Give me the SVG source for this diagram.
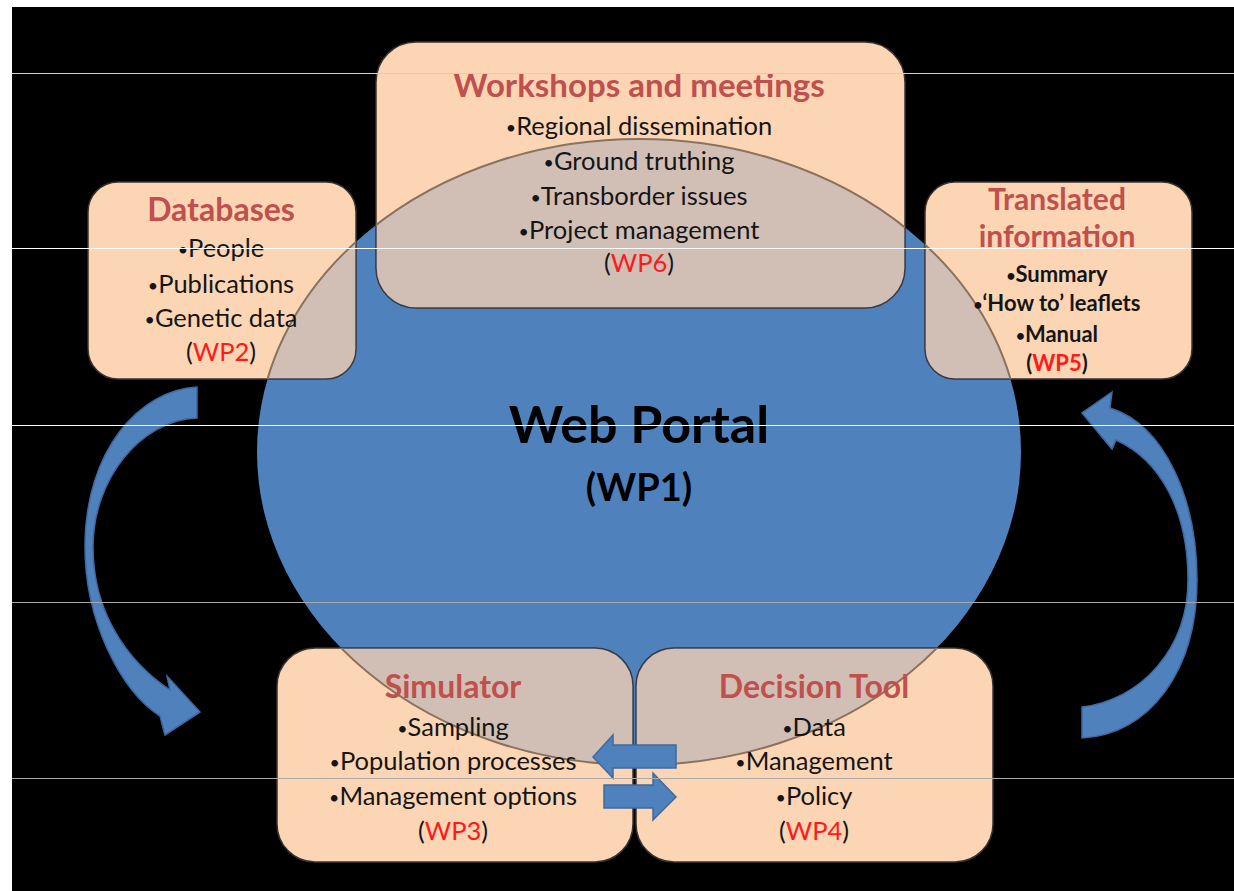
<svg xmlns="http://www.w3.org/2000/svg" width="1234" height="891" viewBox="0 0 1234 891">
<style>
.box{fill:#fcd5b5;stroke:#3b3330;stroke-width:1.5}
.t{font-family:Lato,"Open Sans",sans-serif;text-anchor:middle}
.title{font-weight:bold;fill:#c0504d}
.body{fill:#151515}
.wp{fill:#ff1a1a}
.b{font-size:70%;baseline-shift:8%}
.arr{fill:#4f81bd;stroke:#3e6aa0;stroke-width:1.5}
</style>
<defs>
<clipPath id="boxclip">
<rect x="376" y="42" width="529" height="266" rx="40"/>
<rect x="88" y="182" width="268" height="197" rx="30"/>
<rect x="925" y="182" width="267" height="197" rx="30"/>
<rect x="277" y="648" width="356" height="214" rx="38"/>
<rect x="636" y="648" width="357" height="214" rx="38"/>
</clipPath>
</defs>
<rect x="0" y="0" width="1234" height="891" fill="#ffffff"/>
<rect x="12" y="7" width="1222" height="884" fill="#000000"/>
<ellipse id="web-portal-shape" cx="639" cy="452" rx="382" ry="313" fill="#4f81bd"/>
<g id="workshops"><rect class="box" x="376" y="42" width="529" height="266" rx="40"/></g>
<g id="databases"><rect class="box" x="88" y="182" width="268" height="197" rx="30"/></g>
<g id="translated"><rect class="box" x="925" y="182" width="267" height="197" rx="30"/></g>
<g id="simulator"><rect class="box" x="277" y="648" width="356" height="214" rx="38"/></g>
<g id="decision"><rect class="box" x="636" y="648" width="357" height="214" rx="38"/></g>
<ellipse cx="639" cy="452" rx="382" ry="313" fill="#4f81bd" fill-opacity="0.25" stroke="#8a725f" stroke-width="2" clip-path="url(#boxclip)"/>
<g id="connectors">
<path class="arr" d="M197,387 C140,390 85,450 85,547 C85,620 120,690 160,716 L165,735 L200,712 L167,676 L170,690 C125,660 93,610 93,547 C93,480 140,420 197,418 Z"/>
<path class="arr" d="M1082,707 C1140,700 1188,650 1188,580 C1188,510 1160,460 1116,440 L1112,449 L1082,413 L1112,392 L1110,408 C1165,425 1197,500 1197,580 C1197,670 1150,735 1082,738 Z"/>
<path class="arr" d="M676,745 L613,745 L613,735 L593,757 L613,778 L613,768 L676,768 Z"/>
<path class="arr" d="M604,785 L653,785 L653,773 L676,797 L653,820 L653,808 L604,808 Z"/>
</g>
<g id="web-portal-text">
<text class="t" x="639" y="443" font-size="52" font-weight="bold" fill="#000">Web Portal</text>
<text class="t" x="639" y="501" font-size="38" font-weight="bold" fill="#000">(WP1)</text>
</g>
<g id="workshops-text">
<text class="t title" x="639" y="97" font-size="33">Workshops and meetings</text>
<text class="t body" x="639" y="135" font-size="25.5"><tspan class="b">•</tspan>Regional dissemination</text>
<text class="t body" x="639" y="170" font-size="25.5"><tspan class="b">•</tspan>Ground truthing</text>
<text class="t body" x="639" y="205" font-size="25.5"><tspan class="b">•</tspan>Transborder issues</text>
<text class="t body" x="639" y="239" font-size="25.5"><tspan class="b">•</tspan>Project management</text>
<text class="t body" x="639" y="272" font-size="25.5">(<tspan class="wp">WP6</tspan>)</text>
</g>
<g id="databases-text">
<text class="t title" x="221" y="221" font-size="32">Databases</text>
<text class="t body" x="221" y="257" font-size="25.5"><tspan class="b">•</tspan>People</text>
<text class="t body" x="221" y="293" font-size="25.5"><tspan class="b">•</tspan>Publications</text>
<text class="t body" x="221" y="327" font-size="25.5"><tspan class="b">•</tspan>Genetic data</text>
<text class="t body" x="221" y="361" font-size="25.5">(<tspan class="wp">WP2</tspan>)</text>
</g>
<g id="translated-text">
<text class="t title" x="1057" y="210" font-size="30">Translated</text>
<text class="t title" x="1057" y="247" font-size="30">information</text>
<text class="t body" x="1057" y="282" font-size="22" font-weight="bold"><tspan class="b">•</tspan>Summary</text>
<text class="t body" x="1057" y="311" font-size="22" font-weight="bold"><tspan class="b">•</tspan>‘How to’ leaflets</text>
<text class="t body" x="1057" y="342" font-size="22" font-weight="bold"><tspan class="b">•</tspan>Manual</text>
<text class="t body" x="1057" y="371" font-size="22" font-weight="bold">(<tspan class="wp">WP5</tspan>)</text>
</g>
<g id="simulator-text">
<text class="t title" x="453" y="698" font-size="32">Simulator</text>
<text class="t body" x="453" y="736" font-size="25.5"><tspan class="b">•</tspan>Sampling</text>
<text class="t body" x="453" y="770" font-size="25.5"><tspan class="b">•</tspan>Population processes</text>
<text class="t body" x="453" y="805" font-size="25.5"><tspan class="b">•</tspan>Management options</text>
<text class="t body" x="453" y="840" font-size="25.5">(<tspan class="wp">WP3</tspan>)</text>
</g>
<g id="decision-text">
<text class="t title" x="814" y="698" font-size="32">Decision Tool</text>
<text class="t body" x="814" y="736" font-size="25.5"><tspan class="b">•</tspan>Data</text>
<text class="t body" x="814" y="770" font-size="25.5"><tspan class="b">•</tspan>Management</text>
<text class="t body" x="814" y="805" font-size="25.5"><tspan class="b">•</tspan>Policy</text>
<text class="t body" x="814" y="840" font-size="25.5">(<tspan class="wp">WP4</tspan>)</text>
</g>
<g id="scanlines">
<line x1="12" y1="73.5" x2="1234" y2="73.5" stroke="#cfcfcf" stroke-width="1"/>
<line x1="12" y1="248.5" x2="1234" y2="248.5" stroke="#ffffff" stroke-width="1.2"/>
<line x1="12" y1="425.5" x2="1234" y2="425.5" stroke="#ffffff" stroke-width="1.2"/>
<line x1="12" y1="602.5" x2="1234" y2="602.5" stroke="#a8a8a8" stroke-width="1"/>
<line x1="12" y1="778.5" x2="1234" y2="778.5" stroke="#a8a8a8" stroke-width="1"/>
</g>
</svg>
